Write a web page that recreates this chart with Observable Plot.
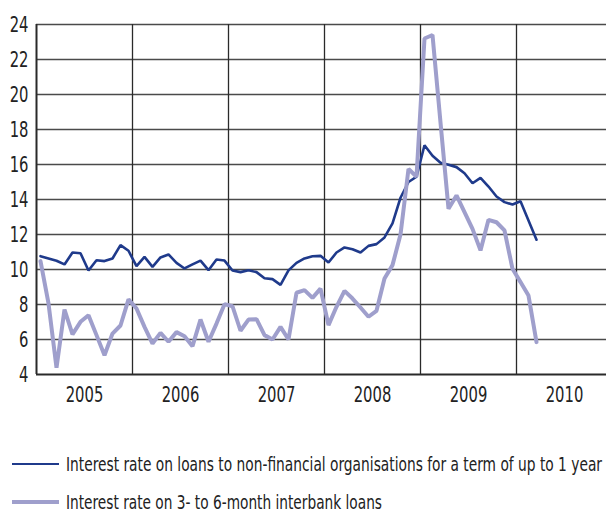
<!DOCTYPE html>
<html>
<head>
<meta charset="utf-8">
<script src="https://cdn.jsdelivr.net/npm/d3@7"></script>
<script src="https://cdn.jsdelivr.net/npm/@observablehq/plot@0.6"></script>
<style>
  html, body { margin: 0; padding: 0; background: #fff; }
  #chart { width: 606px; }
  svg text { font-family: "Liberation Sans Narrow", "DejaVu Sans Condensed", "Liberation Sans", sans-serif; }
  #legend { position: relative; width: 606px; height: 102px; font-family: "Liberation Sans Narrow", "DejaVu Sans Condensed", sans-serif; color: #222; }
  .item { position: absolute; left: 0; height: 20px; width: 606px; }
  .swatch { position: absolute; left: 12px; width: 47px; }
  .label { position: absolute; left: 66px; top: 0; font-size: 19px; line-height: 20px; white-space: nowrap; transform-origin: 0 50%; }
</style>
</head>
<body>
<div id="chart"></div>
<div id="legend"></div>
<script>
// ---- Data (monthly, Jan 2005 – Mar 2010), % p.a. ----
const startYear = 2005;
const yearLabels = [2005, 2006, 2007, 2008, 2009, 2010];
const yTicks = [4, 6, 8, 10, 12, 14, 16, 18, 20, 22, 24];
const seriesNames = [
  "Interest rate on loans to non-financial organisations for a term of up to 1 year",
  "Interest rate on 3- to 6-month interbank loans"
];
const seriesColors = ["#1f3a8b", "#9f9fcc"];

const loanRate = [
  10.76, 10.63, 10.5, 10.29, 10.97, 10.93, 9.94, 10.53, 10.48, 10.63, 11.39, 11.07,
  10.19, 10.72, 10.15, 10.69, 10.86, 10.38, 10.06, 10.29, 10.51, 9.96, 10.57, 10.51,
  9.94, 9.85, 9.96, 9.85, 9.5, 9.45, 9.12, 9.95, 10.38, 10.63, 10.76, 10.78,
  10.4, 10.97, 11.26, 11.16, 10.97, 11.35, 11.45, 11.83, 12.63, 14.1, 15.0, 15.3,
  17.1, 16.5, 16.1, 15.98, 15.85, 15.5, 14.93, 15.24, 14.74, 14.17, 13.85, 13.71,
  13.9, 12.8, 11.7
];
const interbankRate = [
  10.48, 8.06, 4.38, 7.71, 6.29, 7.01, 7.39, 6.25, 5.1, 6.34, 6.8, 8.29,
  7.77, 6.72, 5.77, 6.38, 5.87, 6.42, 6.19, 5.62, 7.14, 5.87, 6.91, 8.02,
  7.9, 6.5, 7.14, 7.16, 6.25, 6.0, 6.72, 6.0, 8.67, 8.82, 8.38, 8.91,
  6.82, 7.87, 8.78, 8.34, 7.83, 7.3, 7.64, 9.49, 10.25, 12.0, 15.75, 15.3,
  23.2, 23.4, 18.4, 13.47, 14.23, 13.28, 12.32, 11.09, 12.84, 12.7, 12.23, 10.04,
  9.28, 8.51, 5.85
];

// mid-month positions as fractional years
const toRows = (arr, name) => arr.map((v, i) => ({ t: startYear + (i + 0.5) / 12, v, name }));
const loans = toRows(loanRate, seriesNames[0]);
const interbank = toRows(interbankRate, seriesNames[1]);

const W = 606, mL = 36, mR = 0;
const pxPerYear = 96;
const xMax = startYear + (W - mL - mR) / pxPerYear;

const plot = Plot.plot({
  width: W,
  height: 410,
  marginLeft: mL,
  marginRight: mR,
  marginTop: 24,
  marginBottom: 36,
  style: { fontFamily: '"Liberation Sans Narrow", "DejaVu Sans Condensed", sans-serif', background: "#fff" },
  x: { domain: [startYear, xMax] },
  y: { domain: [4, 24] },
  marks: [
    Plot.ruleY(yTicks.filter(d => d > 4), { stroke: "#4a4a4a", strokeWidth: 1.5 }),
    Plot.ruleX(yearLabels.slice(1), { stroke: "#2a2a2a", strokeWidth: 1.3 }),
    Plot.ruleX([startYear], { stroke: "#2a2a2a", strokeWidth: 2 }),
    Plot.ruleY([4], { stroke: "#2a2a2a", strokeWidth: 2 }),
    Plot.line(loans, { x: "t", y: "v", stroke: seriesColors[0], strokeWidth: 2.6, strokeLinejoin: "miter" }),
    Plot.line(interbank, { x: "t", y: "v", stroke: seriesColors[1], strokeWidth: 4, strokeLinejoin: "miter" }),
    Plot.axisY({ ticks: yTicks, tickSize: 0, tickPadding: 8, fontSize: 22, color: "#222", label: null }),
    Plot.axisX({ ticks: yearLabels.map(y => y + 0.5), tickFormat: d => String(Math.floor(d)), tickSize: 0, tickPadding: 12, fontSize: 22, color: "#222", label: null })
  ]
});
// narrow the tick-label glyphs to match the condensed face of the original
plot.querySelectorAll('g[aria-label$="tick label"] text').forEach(t => {
  const n = t.textContent.length;
  t.setAttribute("textLength", n * 9.4);
  t.setAttribute("lengthAdjust", "spacingAndGlyphs");
});
document.getElementById("chart").appendChild(plot);

// ---- Legend below the chart (HTML) ----
const legendTop = [44, 82];          // item top within legend box
const legendWidths = [536, 316];     // target text widths
const legendStroke = [2.6, 4];
const legendEl = document.getElementById("legend");
seriesNames.forEach((name, i) => {
  const item = document.createElement("div");
  item.className = "item";
  item.style.top = legendTop[i] + "px";
  const sw = document.createElement("div");
  sw.className = "swatch";
  sw.style.top = (10 - legendStroke[i] / 2) + "px";
  sw.style.height = legendStroke[i] + "px";
  sw.style.background = seriesColors[i];
  const lab = document.createElement("span");
  lab.className = "label";
  lab.textContent = name;
  item.appendChild(sw);
  item.appendChild(lab);
  legendEl.appendChild(item);
  const natural = lab.getBoundingClientRect().width;
  lab.style.transform = `scaleX(${legendWidths[i] / natural})`;
});
</script>
</body>
</html>
